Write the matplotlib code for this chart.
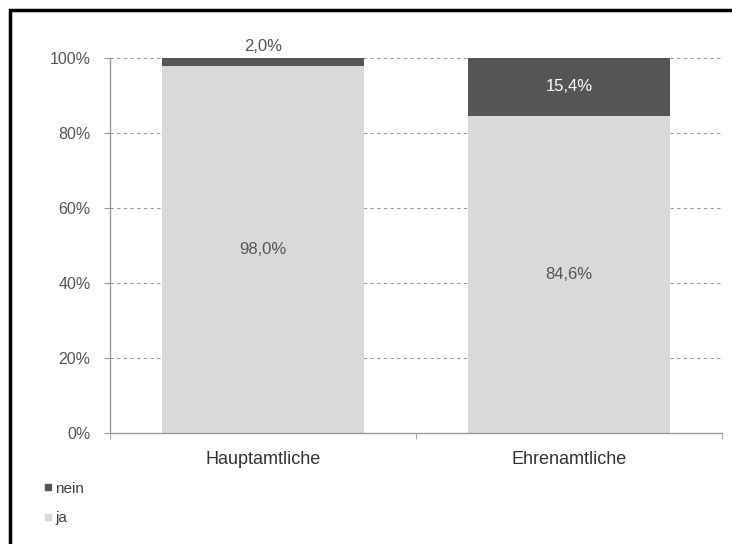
import matplotlib
matplotlib.use("Agg")
import matplotlib.pyplot as plt
from matplotlib.patches import Rectangle
from matplotlib.lines import Line2D

# data (percent of respondents)
groups = ["Hauptamtliche", "Ehrenamtliche"]
ja = [98.0, 84.6]
nein = [2.0, 15.4]
yticks = [0, 20, 40, 60, 80, 100]

C_JA = "#d9d9d9"
C_NEIN = "#555555"
GRID = "#9a9a9a"

plt.rcParams["font.family"] = ["Liberation Sans", "DejaVu Sans"]

fig = plt.figure(figsize=(7.32, 5.44), dpi=100)
W, H = 732, 544
ax = fig.add_axes([110 / W, 1 - 433 / H, 612 / W, (433 - 58) / H])

x = [0.5, 1.5]
width = 0.66
ax.bar(x, ja, width=width, color=C_JA, zorder=2)
ax.bar(x, nein, width=width, bottom=ja, color=C_NEIN, zorder=2)

ax.set_xlim(0, 2)
ax.set_ylim(0, 100)
ax.set_yticks(yticks)
ax.set_yticklabels([f"{v}%" for v in yticks], fontsize=11.5, color="#555555")
ax.set_xticks(x)
ax.set_xticklabels(groups, fontsize=13, color="#333333")
ax.set_xticks([0, 1, 2], minor=True)
ax.tick_params(axis="x", which="major", length=0, pad=13)
ax.tick_params(axis="x", which="minor", length=4, color=GRID, direction="out")
ax.tick_params(axis="y", length=4, color=GRID, pad=10)

for v in yticks[1:]:
    ax.axhline(v, color=GRID, lw=0.8, ls=(0, (3, 3)), zorder=1)

for side in ("top", "right"):
    ax.spines[side].set_visible(False)
for side in ("left", "bottom"):
    ax.spines[side].set_color(GRID)
    ax.spines[side].set_linewidth(1.0)

# value labels
for xi, j, n in zip(x, ja, nein):
    ax.text(xi, j / 2, f"{j:.1f}%".replace(".", ","), ha="center", va="center",
            fontsize=12, color="#555555", zorder=3)
    lab = f"{n:.1f}%".replace(".", ",")
    if n < 5:
        ax.text(xi, j + n + 1, lab, ha="center", va="bottom",
                fontsize=12, color="#555555", zorder=3)
    else:
        ax.text(xi, j + n / 2, lab, ha="center", va="center",
                fontsize=12, color="white", zorder=3)

# legend in the lower left corner
handles = [Line2D([], [], marker="s", ls="none", color=C_NEIN, markersize=5),
           Line2D([], [], marker="s", ls="none", color=C_JA, markersize=5)]
fig.legend(handles, ["nein", "ja"], loc="upper left",
           bbox_to_anchor=(30 / W, 1 - 468 / H), frameon=False,
           fontsize=11, handlelength=0.6, handletextpad=0.15,
           labelspacing=1.0, labelcolor="#444444")

# frame line (top and left edge)
fig.add_artist(Rectangle((10 / W, -0.1), 1.2, 1 - 10 / H + 0.1,
                         transform=fig.transFigure, fill=False,
                         edgecolor="black", lw=2.5))

fig.savefig("out.png", dpi=100)
